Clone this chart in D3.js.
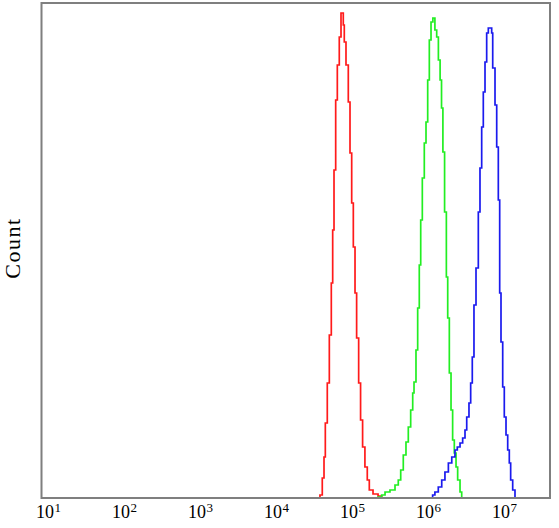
<!DOCTYPE html>
<html>
<head>
<meta charset="utf-8">
<script src="https://cdn.jsdelivr.net/npm/d3@7"></script>
<style>
  html, body { margin: 0; padding: 0; background: #fff; }
  svg { display: block; }
</style>
</head>
<body>
<svg id="chart" width="559" height="528"></svg>
<script>
// Tick labels (decade exponents)
const tickExponents = [1, 2, 3, 4, 5, 6, 7];

// Red histogram: fluorescence intensity, count
const redX = [3.91e4, 4.15e4, 4.45e4, 4.69e4, 4.88e4, 5.18e4, 5.51e4, 5.85e4, 6.10e4, 6.35e4, 6.68e4, 7.02e4, 7.45e4, 7.85e4,
  8.41e4, 8.67e4, 9.13e4, 9.79e4, 1.031e5, 1.085e5, 1.14e5, 1.20e5, 1.26e5, 1.34e5, 1.42e5, 1.51e5, 1.62e5, 1.74e5, 1.85e5, 2.07e5, 2.41e5, 2.69e5];
const redY = [0, 3, 20, 41, 75, 115, 163, 215, 268, 328, 398, 433, 461, 485,
  473, 456, 433, 396, 345, 295, 251, 205, 160, 115, 78, 51, 31, 18, 8, 4, 2, 0];

// Green histogram
const greenX = [2.27e5, 2.41e5, 2.69e5, 2.98e5, 3.46e5, 4.03e5, 4.45e5, 4.79e5, 5.18e5, 5.62e5, 6.03e5, 6.48e5, 6.89e5, 7.17e5,
  7.61e5, 8.01e5, 8.41e5, 8.78e5, 9.22e5, 9.79e5, 1.031e6, 1.085e6, 1.14e6, 1.20e6, 1.27e6,
  1.35e6, 1.425e6, 1.50e6, 1.58e6, 1.65e6, 1.72e6, 1.81e6, 1.91e6, 1.99e6, 2.09e6, 2.20e6, 2.31e6, 2.43e6, 2.56e6, 2.69e6, 2.89e6, 3.04e6];
const greenY = [0, 1, 3, 6, 8, 13, 18, 28, 43, 56, 71, 88, 105, 116,
  148, 190, 233, 278, 320, 355, 376, 418, 458, 476, 480,
  468, 461, 438, 418, 390, 346, 286, 221, 180, 125, 88, 58, 45, 31, 18, 6, 0];

// Blue histogram
const blueX = [1.18e6, 1.26e6, 1.35e6, 1.496e6, 1.66e6, 1.83e6, 2.03e6, 2.25e6, 2.48e6, 2.66e6, 2.89e6, 3.13e6, 3.36e6, 3.54e6,
  3.79e6, 3.99e6, 4.19e6, 4.41e6, 4.69e6, 5.03e6, 5.29e6, 5.57e6, 5.85e6, 6.16e6, 6.48e6, 6.81e6,
  7.54e6, 7.78e6, 8.34e6, 8.78e6, 9.22e6, 9.61e6, 1.00e7, 1.053e7, 1.105e7, 1.164e7, 1.225e7, 1.286e7, 1.34e7, 1.425e7, 1.528e7];
const blueY = [0, 3, 6, 11, 18, 26, 35, 41, 48, 51, 55, 60, 68, 81,
  95, 115, 141, 193, 230, 286, 330, 371, 406, 436, 465, 470,
  465, 430, 393, 351, 298, 205, 156, 111, 81, 63, 48, 35, 18, 8, 0];

const series = [
  { name: "red", x: redX, y: redY, color: "#ff1a1a" },
  { name: "green", x: greenX, y: greenY, color: "#22ee22" },
  { name: "blue", x: blueX, y: blueY, color: "#1a1aee" }
];

const svg = d3.select("#chart");
const frame = { left: 41.5, right: 550, top: 3, bottom: 498 };

const x = d3.scaleLog().domain([10, 1e7]).range([45, 501]);
const y = d3.scaleLinear().domain([0, 495]).range([frame.bottom, frame.top]);

const line = d3.line()
  .x(d => x(d[0]))
  .y(d => y(d[1]))
  .curve(d3.curveStepAfter);

series.forEach(s => {
  const pts = s.x.map((v, i) => [v, s.y[i]]);
  svg.append("path")
    .attr("d", line(pts))
    .attr("fill", "none")
    .attr("stroke", s.color)
    .attr("stroke-width", 1.7)
    .attr("stroke-linejoin", "miter");
});

// Frame
svg.append("rect")
  .attr("x", frame.left)
  .attr("y", frame.top)
  .attr("width", frame.right - frame.left)
  .attr("height", frame.bottom - frame.top)
  .attr("fill", "none")
  .attr("stroke", "#7f7f7f")
  .attr("stroke-width", 2);

// Tick labels
const fontFam = "'Liberation Serif', 'DejaVu Serif', serif";
const labels = svg.append("g").attr("font-family", fontFam).attr("fill", "#000");
const probe = labels.append("text").attr("font-size", 18).text("10");
const w10 = probe.node().getComputedTextLength();
probe.remove();
tickExponents.forEach(e => {
  const t = labels.append("text")
    .attr("x", x(Math.pow(10, e)) - w10 / 2)
    .attr("y", 518)
    .attr("font-size", 18);
  t.append("tspan").text("10");
  t.append("tspan").attr("font-size", 13).attr("dx", 0.5).attr("dy", -6).text(String(e));
});

// Y label
svg.append("text")
  .attr("transform", "translate(20,248) rotate(-90)")
  .attr("text-anchor", "middle")
  .attr("font-family", fontFam)
  .attr("font-size", 22)
  .attr("letter-spacing", 1.5)
  .attr("fill", "#000")
  .text("Count");
</script>
</body>
</html>
